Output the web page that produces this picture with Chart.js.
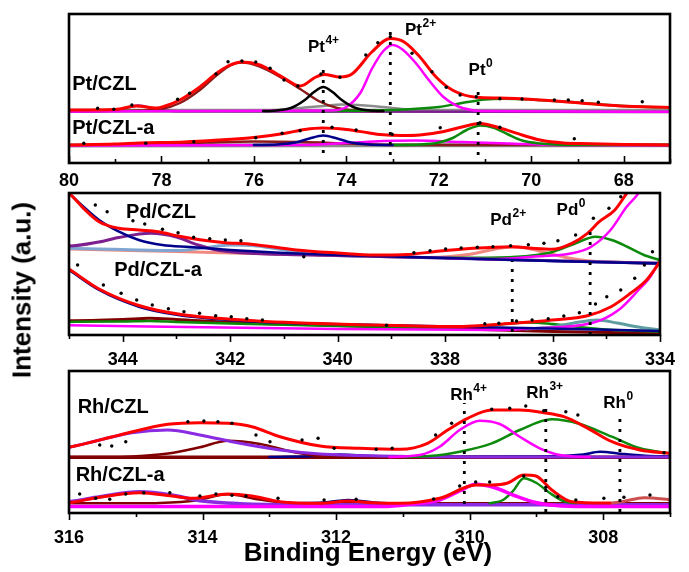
<!DOCTYPE html>
<html><head><meta charset="utf-8">
<script src="https://cdn.jsdelivr.net/npm/chart.js@4/dist/chart.umd.min.js"></script>
<style>
html,body{margin:0;padding:0;background:#fff;}
#wrap{position:relative;width:689px;height:572px;overflow:hidden;font-family:"Liberation Sans",Arial,sans-serif;}
canvas{position:absolute;left:0;}
.ttl{position:absolute;font-weight:bold;color:#000;white-space:nowrap;}
</style></head>
<body><div id="wrap">
<canvas id="c1" width="689" height="189" style="top:1px"></canvas>
<canvas id="c2" width="689" height="190" style="top:180px"></canvas>
<canvas id="c3" width="689" height="185" style="top:358px"></canvas>
<div class="ttl" id="xt" style="font-size:26px;left:0;width:736px;text-align:center;top:537px;">Binding Energy (eV)</div>
<div class="ttl" id="yt" style="font-size:26px;left:22px;top:290px;transform:translate(-50%,-50%) rotate(-90deg);">Intensity (a.u.)</div>
</div>
<script>
// ---------------- Pt 4f panel ----------------
const ptTicks = [80,78,76,74,72,70,68];
const ptCZL_data = [[79.38,54.7],[79.03,53.7],[78.64,58],[77.65,63.7],[77.39,69.7],[76.82,89],[76.56,101.3],[76.26,102],[75.96,101],[75.65,94.7],[75.35,83],[75.05,77],[74.55,89],[74.14,85.7],[73.58,108],[73.32,120.3],[73.05,126.3],[72.58,109.7],[72.15,91.3],[71.84,75.7],[71.54,68],[71.19,66.3],[70.68,64.3],[70.2,64],[69.5,63],[69.2,63],[68.9,62.3],[68.55,60.7],[67.6,61.3]];
const ptCZL_fit = [[80,53],[79,53.5],[78.55,57],[78.1,55],[77.95,56.5],[77.6,63],[77.17,76],[76.8,90],[76.56,97],[76.26,101],[75.87,98],[75.35,85],[75.0,77],[74.66,86],[74.48,88.5],[74.14,86],[73.88,89],[73.45,111],[73.05,124.5],[72.75,121],[72.41,106],[72.06,86],[71.71,73],[71.19,65.7],[70.68,65],[69.81,63],[68.94,60],[68.08,57],[67,55.5]];
const ptCZL_brown = [[80,52],[78.5,52.5],[78,54],[77.6,60],[77.17,73],[76.8,88],[76.5,98],[76.26,100.5],[75.9,97],[75.35,84],[75.0,74],[74.6,62],[74.2,55],[73.8,52.5],[73.2,52]];
const ptCZL_purple = [[80,51.5],[79.3,51.8],[78.9,53.5],[78.5,57.5],[78.1,53.5],[77.7,51.8],[67,51]];
const ptCZL_black = [[75.8,52],[75.6,52.3],[75.2,55],[74.9,63],[74.7,71],[74.5,76],[74.3,71],[74.1,63],[73.8,55],[73.4,52.3],[73.2,52]];
const ptCZL_magenta = [[80,51.5],[74.3,52.5],[74.0,56],[73.7,70],[73.45,94],[73.2,112],[73.0,118],[72.8,114],[72.5,100],[72.2,82],[71.9,66],[71.6,57],[71.3,53],[71,52],[67,51.3]];
const ptCZL_green = [[74.5,52],[73,53],[72,56],[71.5,60],[71,63.5],[70.6,64.3],[70,63.5],[69.5,62],[69,60.5],[68.5,58.5],[68,57],[67.5,56],[67,55.5]];
const ptCZL_grey = [[76.5,52],[75.5,53],[75,55],[74.5,57],[74.1,58.5],[73.6,57.5],[73,55],[72.5,53],[72,52]];
const ptCZL_base = [[80,52.3],[67,52.3]];
const ptCZLa_data = [[79.68,19.7],[78.34,19.7],[77.3,21.3],[75.96,25.3],[75.39,29.7],[75.0,32.3],[74.31,35.7],[73.79,33],[73.01,28.7],[71.97,35.3],[71.11,40.3],[70.68,35.7],[69.07,24.3]];
const ptCZLa_fit = [[80,18],[79,19],[78.47,20],[77.5,21],[76.74,23],[76,25.5],[75.35,29.5],[74.9,33.5],[74.52,35],[74.0,33.5],[73.5,30],[73.27,28.5],[72.8,27.5],[72.41,28],[71.89,31.5],[71.5,36],[71.11,39.5],[70.68,35],[70.2,28],[69.81,23],[69.3,20],[68.94,19.5],[68,18.5],[67,18]];
const ptCZLa_navy = [[76,18],[75.5,18.5],[75.1,20.5],[74.8,24.5],[74.5,27.5],[74.2,24.5],[73.9,20.5],[73.5,18.5],[73,18]];
const ptCZLa_green = [[73,18],[72.4,18.5],[72,20.5],[71.7,25],[71.4,33],[71.1,37.5],[70.8,35],[70.5,28.5],[70.2,22.5],[69.8,19.5],[69.4,18.3],[68.5,18],[67,18]];
const ptCZLa_magenta = [[80,17.5],[75,18],[74,20],[73.2,22],[72.5,22.5],[71.5,21],[70.5,19.5],[69.5,18],[67,17.5]];
const ptCZLa_brown = [[80,18],[78,19],[77,20.5],[76,21.5],[75,21],[74,19.5],[73,18],[67,18]];
const ptCZLa_base = [[80,17.5],[67,17.8]];
const ptGuides = [[74.5,10,98],[73.05,8,131],[71.15,8,78]];

// ---------------- Pd 3d panel ----------------
const pdTicks = [344,342,340,338,336,334];
const pdCZL_data = [[344.51,130],[344.29,123.3],[343.81,114.3],[343.59,111],[343.26,105.7],[342.97,102.3],[342.68,97.7],[342.38,96.3],[342.09,95],[341.8,94.3],[340.63,78.3],[338.58,82.3],[338.28,84.3],[337.99,86],[337.7,87],[337.4,87.7],[337.11,88.3],[336.78,89.3],[336.45,90.3],[336.16,91.7],[335.9,94.3],[335.57,100],[335.24,116.7],[334.95,126.7],[334.73,138.3],[334.14,83.3]];
const pdCZL_fit = [[345.3,150],[345,141.7],[344.73,126.7],[344.44,113.3],[344.07,106.7],[343.7,105],[343.34,103.3],[342.97,99],[342.53,95],[342.09,92.3],[341.65,91],[340.77,85],[340,82],[339.31,80],[338.7,80.5],[338.21,83.3],[337.48,86.7],[336.74,88.3],[336.38,86.7],[336.01,85.7],[335.64,91.7],[335.35,101.7],[335.13,113.3],[334.84,125],[334.62,141.7],[334.45,155]];
const pdCZL_navy = [[345.3,155],[345,141.7],[344.73,128.3],[344.44,115],[344.07,103.3],[343.7,95],[343.26,90],[342.75,88],[342,85],[341,82],[340,80],[338,77],[336,74],[334,71.5]];
const pdCZL_purple = [[345.3,89],[345,89],[344.44,93],[344.07,97.5],[343.48,101.7],[343,98],[342.6,90],[342.2,84.5],[341.5,81.5],[340,79.5],[338,77],[336,74.3],[334,71.7]];
const pdCZL_salmon = [[345.3,86.5],[345,86],[343,83.4],[341,80.8],[339,78.2],[338.3,77.5],[337.9,78.5],[337.5,81],[337.1,85.5],[336.8,88],[336.5,87],[336.1,82],[335.7,77],[335.3,74],[334.9,73],[334,71.7]];
const pdCZL_steel = [[345.3,87],[344,85.5],[343,84.5],[342.5,87],[342,90],[341.5,89],[341,85],[340.5,81],[339,78.2],[334,71.7]];
const pdCZL_green = [[338,77],[336.74,78],[336.3,80],[336,83],[335.6,91],[335.2,98.3],[334.9,95],[334.6,88],[334.3,80],[334,75]];
const pdCZL_magenta = [[338,77],[337,76],[336.38,78.3],[335.64,81.7],[335.28,88.3],[334.92,105],[334.62,128.3],[334.4,141.7],[334.2,160]];
const pdCZLa_data = [[344.84,70],[344.36,50],[344.03,41.7],[343.74,35],[343.45,30],[343.15,26.3],[342.86,23.3],[342.57,21.7],[342.27,19.3],[341.98,18.3],[341.69,16.3],[341.4,15],[339.09,9.7],[337.26,11.3],[337.0,11.7],[336.67,14],[336.38,15],[336.08,16.3],[335.79,19],[335.5,22.3],[335.2,31],[334.99,38.3],[334.73,45],[334.47,56.7],[334.29,70]];
const pdCZLa_fit = [[345.3,76],[345,66],[344.44,46],[343.7,29.5],[342.97,21],[341.5,14],[339.31,10],[337.84,8.5],[336.74,11.7],[336.01,15],[335.35,19.3],[334.91,28.3],[334.55,41.7],[334.25,55],[334,73.3]];
const pdCZLa_navy = [[345.3,75],[345,65],[344.44,45],[343.7,28.3],[342.97,20],[341.5,13.3],[339.31,10],[337,7.5],[334,4]];
const pdCZLa_magenta = [[345.3,10],[340,6],[337,5],[336.38,6.7],[335.28,11.7],[334.77,25],[334.4,45],[334.18,58.3],[334,75]];
const pdCZLa_green = [[345.3,13],[344,13.5],[343.5,14],[343,13],[342,11.5],[340,9],[338.5,7.5],[337.5,8.5],[337,10.5],[336.45,12.5],[336,11],[335.5,8],[335,5.5],[334,3.5]];
const pdCZLa_teal = [[336.5,6],[336,8],[335.6,12],[335.17,15],[334.8,12],[334.4,8],[334,5]];
const pdCZLa_maroon = [[345.3,14.5],[345,14.3],[344,15.5],[343.5,16.7],[343,15.5],[342,12.5],[340,9.5],[338,6.5],[336,3.5],[334,1.7]];
const pdGuides = [[336.75,3,74],[335.3,0,108]];

// ---------------- Rh 3d panel ----------------
const rhTicks = [316,314,312,310,308];
const rhCZL_data = [[315.54,68],[315.36,67],[315.15,71.3],[314.22,91.3],[313.98,92],[313.77,91.3],[313.56,89.7],[313.2,78],[312.99,71.3],[312.51,73],[312.27,74.7],[312.03,64.7],[311.4,63.7],[311.16,64.7],[310.51,78],[310.27,89.7],[309.67,103.7],[309.4,104.7],[309.16,107],[308.89,102.3],[308.56,101.3],[308.38,98],[307.09,60.3]];
const rhCZL_fit = [[316.3,63],[316,65.7],[315.24,78],[314.52,88.7],[314.04,90.3],[313.62,89.7],[313.26,86.3],[312.84,76.3],[312.24,67],[311.64,64.7],[311.04,63.7],[310.63,69.7],[310.33,83],[310.03,94.7],[309.67,103],[309.25,103],[308.89,100.3],[308.59,96.3],[308.23,84.7],[307.87,71.3],[307.45,63],[307,59.7]];
const rhCZL_violet = [[316.3,62],[316,65.7],[315.54,73],[315.06,80.3],[314.52,83],[314.04,78],[313.44,69.7],[312.84,63],[312.24,59],[311.34,57],[310,56],[307,56]];
const rhCZL_maroon = [[316,56],[315.3,56],[314.94,57],[314.46,60],[314.04,65.7],[313.62,72.3],[313.14,69],[312.66,61.3],[312.24,57],[311.5,56],[307,55.7]];
const rhCZL_magenta = [[311.2,56],[310.75,58],[310.45,66.3],[310.15,83],[309.85,92.3],[309.55,89],[309.25,76.3],[308.95,64.7],[308.65,58],[308.2,56]];
const rhCZL_green = [[311,56],[310.5,57.5],[310.15,61.3],[309.67,69.7],[309.25,83],[308.77,93.7],[308.35,89],[307.87,76.3],[307.45,64.7],[307,59.7]];
const rhCZL_navy = [[313,56],[312.3,57],[311.94,58.5],[311.5,57],[311,56.3],[309,56.5],[308.3,58.5],[308.05,61.3],[307.7,59],[307.3,57],[307,56.5]];
const rhCZL_base = [[316,55.7],[307,55.7]];
const rhCZLa_data = [[315.84,19],[315.6,14.7],[315.39,13.7],[315.15,19],[314.88,20.3],[314.49,20.3],[314.04,17],[313.8,19],[313.56,17.7],[313.35,17],[312.87,14.7],[312.18,13],[311.7,13.7],[310.54,14],[310.15,27],[309.91,31],[309.7,31],[309.19,37],[308.86,25.7],[308.68,16.3],[308.41,13],[307.99,14.7],[307.69,15.7],[307.3,18]];
const rhCZLa_fit = [[316.3,8.5],[316,10.3],[315.54,15.7],[314.94,20.3],[314.46,17],[314.16,14.7],[313.62,19],[313.26,17],[312.84,11.3],[312.24,9.7],[311.82,12],[311.46,10.3],[311.04,9.7],[310.45,14.7],[309.91,28],[309.67,28],[309.43,30],[309.19,38],[309.01,37],[308.77,23],[308.47,11.3],[308,10],[307.9,10]];
const rhCZLa_violet = [[316.3,10],[316,11.3],[315.54,16.3],[314.94,21.3],[314.46,18],[314.04,12.3],[313.44,9.3],[312.5,8.3],[307,8.3]];
const rhCZLa_maroon = [[316,9.7],[315,9.7],[314.64,10],[314.1,12.5],[313.62,18.7],[313.15,13.5],[312.66,10],[312,9.7],[307,9.7]];
const rhCZLa_navy = [[312.6,9.7],[312.2,10.5],[311.95,12.3],[311.82,13],[311.6,11.8],[311.3,10],[311,9.7]];
const rhCZLa_magenta = [[316,6.5],[311.3,6.5],[310.86,9],[310.45,13],[310.15,22],[309.91,28.7],[309.61,25],[309.31,17],[309.01,10.5],[308.71,7.5],[308.3,6.5],[307,6.5]];
const rhCZLa_green = [[309.7,9.7],[309.5,13],[309.35,22],[309.19,34.7],[309.0,30],[308.8,20],[308.6,12],[308.4,9.7]];
const rhCZLa_red2 = [[307.9,9.7],[307.7,11.5],[307.39,15.3],[307.1,14],[306.8,11]];
const rhGuides = [[310.08,9,110],[308.86,1,107],[307.75,1,96]];

// ---------------- helpers ----------------
const FONT = '"Liberation Sans", Arial, sans-serif';
const C = {red:'#ff0000', mag:'#ff00ff', green:'#0c8a0c', black:'#000000', brown:'#8b1a1a', purple:'#7d1f8f', grey:'#8c8c8c', navy:'#00008b', violet:'#8a2be2', salmon:'#f08a80', steel:'#7fa6d2', teal:'#5f9ea0', maroon:'#800000', ired:'#cd5050'};
const pts = a => a.map(p => ({x:p[0], y:p[1]}));
function curve(a, color, w) {
  return {data: pts(a), borderColor: color, borderWidth: w || 2.5, pointRadius: 0, fill: false,
          cubicInterpolationMode: 'monotone', tension: 0.4, borderJoinStyle: 'round', borderCapStyle: 'round'};
}
function dots(a) {
  return {data: pts(a), showLine: false, pointRadius: 1.7, pointBackgroundColor: '#000', pointBorderWidth: 0, borderColor: '#000'};
}
function guides(g) {
  return g.map(v => ({data: [{x:v[0], y:v[1]}, {x:v[0], y:v[2]}], borderColor: '#000', borderWidth: 2.8,
    borderDash: [3, 7], pointRadius: 0, fill: false, tension: 0}));
}

const decor = {
  id: 'decor',
  afterDraw(chart, args, o) {
    const ctx = chart.ctx, a = chart.chartArea, xs = chart.scales.x, ys = chart.scales.y;
    ctx.save();
    ctx.strokeStyle = '#000'; ctx.lineWidth = 1.6;
    xs.ticks.forEach(t => {
      const px = Math.round(xs.getPixelForValue(t.value)) + 0.5;
      const major = o.major.includes(t.value);
      const len = major ? 7 : 4;
      ctx.beginPath();
      if (o.inward) { ctx.moveTo(px, a.bottom); ctx.lineTo(px, a.bottom - len); }
      else { ctx.moveTo(px, a.bottom); ctx.lineTo(px, a.bottom + len); }
      ctx.stroke();
    });
    ctx.lineWidth = 2.6;
    ctx.strokeRect(a.left, a.top, a.right - a.left, a.bottom - a.top);
    ctx.fillStyle = '#000'; ctx.textBaseline = 'middle';
    (o.labels || []).forEach(l => {
      const px = xs.getPixelForValue(l.x), py = ys.getPixelForValue(l.y);
      const ss = Math.round(l.size * 0.68);
      ctx.font = 'bold ' + l.size + 'px ' + FONT;
      const w1 = ctx.measureText(l.t).width;
      let w2 = 0;
      if (l.sup) { ctx.font = 'bold ' + ss + 'px ' + FONT; w2 = ctx.measureText(l.sup).width; }
      const start = l.align === 'left' ? px : px - (w1 + w2) / 2;
      ctx.font = 'bold ' + l.size + 'px ' + FONT;
      ctx.textAlign = 'left';
      ctx.fillText(l.t, start, py);
      if (l.sup) {
        ctx.font = 'bold ' + ss + 'px ' + FONT;
        ctx.fillText(l.sup, start + w1 + 0.5, py - l.size * 0.4);
      }
    });
    ctx.restore();
  }
};

function panel(id, xmin, xmax, ymax, axisH, tickPad, major, inward, datasets, labels) {
  return new Chart(document.getElementById(id), {
    type: 'line',
    data: {datasets: datasets},
    plugins: [decor],
    options: {
      responsive: false, animation: false, events: [],
      layout: {padding: {left: 69, right: 19, top: 13, bottom: 0}},
      plugins: {legend: {display: false}, tooltip: {enabled: false},
                decor: {major: major, inward: inward, labels: labels}},
      scales: {
        x: {type: 'linear', reverse: true, min: xmin, max: xmax,
            afterFit: s => { s.height = axisH; },
            grid: {display: false, drawTicks: false}, border: {display: false},
            ticks: {stepSize: 1, autoSkip: false, maxRotation: 0, color: '#000', padding: tickPad,
                    font: {family: FONT, size: 18, weight: 'bold'},
                    callback: v => major.includes(v) ? String(v) : ''}},
        y: {display: false, min: 0, max: ymax}
      }
    }
  });
}

panel('c1', 67, 80, 149, 27, 7, ptTicks, true, [
  dots(ptCZL_data), dots(ptCZLa_data), ...guides(ptGuides),
  curve(ptCZL_fit, C.red, 3), curve(ptCZLa_fit, C.red, 3),
  curve(ptCZL_black, C.black), curve(ptCZL_magenta, C.mag), curve(ptCZL_green, C.green),
  curve(ptCZL_brown, C.brown), curve(ptCZL_purple, C.purple), curve(ptCZL_grey, C.grey),
  curve(ptCZL_base, C.grey, 4),
  curve(ptCZLa_navy, C.navy), curve(ptCZLa_green, C.green), curve(ptCZLa_magenta, C.mag),
  curve(ptCZLa_brown, C.brown), curve(ptCZLa_base, C.grey, 4)
], [
  {x: 79.93, y: 79, t: 'Pt/CZL', size: 20, align: 'left'},
  {x: 79.93, y: 35, t: 'Pt/CZL-a', size: 20, align: 'left'},
  {x: 74.5, y: 116, t: 'Pt', sup: '4+', size: 17},
  {x: 72.4, y: 133, t: 'Pt', sup: '2+', size: 17},
  {x: 71.1, y: 93, t: 'Pt', sup: '0', size: 17}
]);

panel('c2', 334, 345, 142, 35, 14, pdTicks, false, [
  dots(pdCZL_data), dots(pdCZLa_data), ...guides(pdGuides),
  curve(pdCZL_fit, C.red, 3), curve(pdCZLa_fit, C.red, 3),
  curve(pdCZL_navy, C.navy), curve(pdCZL_magenta, C.mag), curve(pdCZL_green, C.green),
  curve(pdCZL_purple, C.purple, 3), curve(pdCZL_steel, C.steel, 3), curve(pdCZL_salmon, C.salmon, 3),
  curve(pdCZLa_navy, C.navy), curve(pdCZLa_magenta, C.mag), curve(pdCZLa_teal, C.teal, 3),
  curve(pdCZLa_green, C.green), curve(pdCZLa_maroon, C.maroon, 3)
], [
  {x: 343.94, y: 123, t: 'Pd/CZL', size: 20, align: 'left'},
  {x: 344.16, y: 65, t: 'Pd/CZL-a', size: 20, align: 'left'},
  {x: 336.83, y: 115, t: 'Pd', sup: '2+', size: 17},
  {x: 335.66, y: 125, t: 'Pd', sup: '0', size: 17}
]);

panel('c3', 307, 316, 142, 30, 14, rhTicks, false, [
  dots(rhCZL_data), dots(rhCZLa_data), ...guides(rhGuides),
  curve(rhCZL_fit, C.red, 3), curve(rhCZLa_fit, C.red, 3),
  curve(rhCZL_magenta, C.mag), curve(rhCZL_green, C.green), curve(rhCZL_violet, C.violet, 3),
  curve(rhCZL_maroon, C.maroon), curve(rhCZL_navy, C.navy), curve(rhCZL_base, C.maroon, 3.5),
  curve(rhCZLa_magenta, C.mag, 3.5), curve(rhCZLa_green, C.green), curve(rhCZLa_red2, C.ired, 3),
  curve(rhCZLa_violet, C.violet, 3.5), curve(rhCZLa_maroon, C.maroon), curve(rhCZLa_navy, C.navy)
], [
  {x: 315.87, y: 106, t: 'Rh/CZL', size: 20, align: 'left'},
  {x: 315.9, y: 38, t: 'Rh/CZL-a', size: 20, align: 'left'},
  {x: 310.02, y: 118, t: 'Rh', sup: '4+', size: 17},
  {x: 308.88, y: 120, t: 'Rh', sup: '3+', size: 17},
  {x: 307.78, y: 110, t: 'Rh', sup: '0', size: 17}
]);
</script>
</body></html>
